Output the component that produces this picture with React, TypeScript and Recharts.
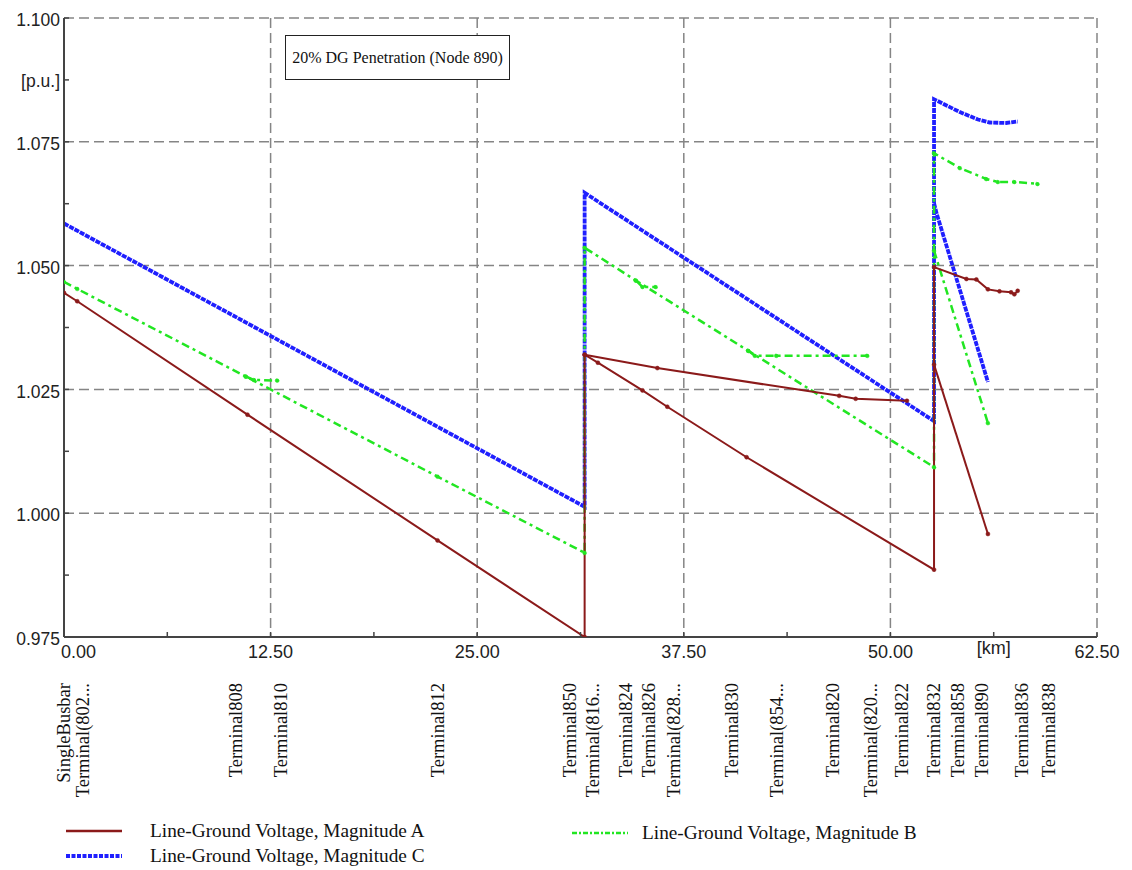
import React from 'react';
import { LineChart, Line, XAxis, YAxis, CartesianGrid } from 'recharts';

type P = { x: number; y: number };
const toPts = (a: number[][]): P[] => a.map(([x, y]) => ({ x, y }));

// ---- Axis ticks ----
const xTicks = [0, 6.25, 12.5, 18.75, 25, 31.25, 37.5, 43.75, 50, 56.25, 62.5];
const xTickLabels = ['0.00', '', '12.50', '', '25.00', '', '37.50', '', '50.00', '[km]', '62.50'];
const xGrid = [12.5, 25, 37.5, 50, 62.5];
const yTicks = [0.975, 0.9875, 1.0, 1.0125, 1.025, 1.0375, 1.05, 1.0625, 1.075, 1.0875, 1.1];
const yTickLabels = ['0.975', '', '1.000', '', '1.025', '', '1.050', '', '1.075', '[p.u.]', '1.100'];
const yGrid = [1.0, 1.025, 1.05, 1.075, 1.1];

// ---- Terminals along the feeder (km positions of the labels) ----
const terminalNames = [
  'SingleBusbar', 'Terminal(802...', 'Terminal808', 'Terminal810', 'Terminal812',
  'Terminal850', 'Terminal(816...', 'Terminal824', 'Terminal826', 'Terminal(828...',
  'Terminal830', 'Terminal(854...', 'Terminal820', 'Terminal(820...', 'Terminal822',
  'Terminal832', 'Terminal858', 'Terminal890', 'Terminal836', 'Terminal838',
];
const terminalKm = [
  0, 1.15, 10.35, 13.13, 22.63,
  30.61, 32.0, 34.0, 35.39, 36.85,
  40.36, 43.14, 46.47, 48.77, 50.7,
  52.58, 54.09, 55.54, 57.96, 59.54,
];

// ---- Phase A (Line-Ground Voltage, Magnitude A) ----
const phaseAMain = [
  [0, 1.0445], [0.8, 1.0428], [11.1, 1.0199], [22.6, 0.9945], [31.5, 0.975],
  [31.5, 1.032], [32.3, 1.0304], [35.0, 1.0248], [36.5, 1.0215], [41.3, 1.0113], [52.64, 0.9886],
  [52.64, 1.0497], [54.6, 1.0473], [55.2, 1.0472], [55.9, 1.0452], [56.6, 1.0448],
  [57.3, 1.0446], [57.5, 1.0442], [57.7, 1.0449],
];
const phaseABranch850 = [[31.5, 1.032], [35.9, 1.0293], [46.9, 1.0237], [47.9, 1.0231], [51.0, 1.0227]];
const phaseABranch832 = [[52.64, 1.03], [55.9, 0.9958]];

// ---- Phase B ----
const phaseBMain = [
  [0, 1.0467], [0.8, 1.0453], [11.0, 1.0276], [22.6, 1.0074], [31.5, 0.992],
  [31.5, 1.0536], [34.6, 1.047], [41.4, 1.0328], [52.64, 1.0093],
  [52.64, 1.0727], [54.2, 1.0697], [55.8, 1.0675], [56.5, 1.0669], [57.5, 1.0669], [58.9, 1.0665],
];
const phaseBBranch808 = [[11.0, 1.0276], [11.5, 1.0269], [12.9, 1.0268]];
const phaseBBranch824 = [[34.6, 1.047], [35.0, 1.0457], [35.8, 1.0457]];
const phaseBBranch854 = [[41.4, 1.0328], [41.8, 1.0318], [43.1, 1.0318], [48.6, 1.0318]];
const phaseBBranch832 = [[52.64, 1.053], [55.9, 1.0182]];

// ---- Phase C ----
const phaseCMain = [
  [0, 1.0585], [31.5, 1.0013], [31.5, 1.0647], [52.64, 1.0186],
  [52.64, 1.0836], [54.2, 1.081], [55.3, 1.0795], [56.0, 1.0789], [57.0, 1.0788], [57.7, 1.0791],
];
const phaseCBranch832 = [[52.64, 1.0626], [52.8, 1.0605], [55.9, 1.0265]];

const seriesNames = [
  'Line-Ground Voltage, Magnitude A',
  'Line-Ground Voltage, Magnitude B',
  'Line-Ground Voltage, Magnitude C',
];
const seriesColors = ['#8b1a1a', '#22e622', '#1f1fff'];
const seriesDash = ['', '8 4 3 4', '5 1'];
const seriesWidth = [2, 2.5, 3.8];

const annotation = '20% DG Penetration (Node 890)';

const SANS = "'Liberation Sans', Arial, sans-serif";
const SERIF = "'Liberation Serif', 'Times New Roman', serif";

const idx = (arr: number[], v: number) => arr.findIndex((t) => Math.abs(t - v) < 1e-9);

const YTick = (props: any) => {
  const { x, y, payload } = props;
  const i = idx(yTicks, payload.value);
  const label = i >= 0 ? yTickLabels[i] : '';
  const ax = x + 4;
  return (
    <g>
      <line x1={ax} x2={ax + 5} y1={y} y2={y} stroke="#444" strokeWidth={1.5} />
      {label ? (
        <text x={x} y={label === '[p.u.]' ? y + 1 : y + 2} dy="0.35em" textAnchor="end" style={{ fontFamily: SANS }} fontSize={17.5} fill="#222">
          {label}
        </text>
      ) : null}
    </g>
  );
};

const XTick = (props: any) => {
  const { x, y, payload } = props;
  const i = idx(xTicks, payload.value);
  const label = i >= 0 ? xTickLabels[i] : '';
  const isFirst = i === 0;
  const isUnit = label === '[km]';
  return (
    <g>
      <line x1={x} x2={x} y1={y} y2={y - 5} stroke="#444" strokeWidth={1.5} />
      {label ? (
        <text
          x={isFirst ? x - 3 : x}
          y={isUnit ? y + 4 : y + 8}
          dy="0.71em"
          textAnchor={isFirst ? 'start' : 'middle'}
          style={{ fontFamily: SANS }}
          fontSize={18}
          fill="#222"
        >
          {label}
        </text>
      ) : null}
    </g>
  );
};

const TermTick = (props: any) => {
  const { x, y, payload } = props;
  const i = idx(terminalKm, payload.value);
  const name = i >= 0 ? terminalNames[i] : '';
  const ty = y + 6;
  return (
    <text
      x={x}
      y={ty}
      transform={`rotate(-90 ${x} ${ty})`}
      textAnchor="end"
      dy="0.35em"
      style={{ fontFamily: SERIF }}
      fontSize={18.5}
      fill="#111"
    >
      {name}
    </text>
  );
};

const dotFor = (color: string) => ({ r: 2, fill: color, stroke: color, strokeWidth: 0.5 });

const series = [
  { key: 'c1', data: phaseCMain, s: 2, dot: false },
  { key: 'c2', data: phaseCBranch832, s: 2, dot: false },
  { key: 'b1', data: phaseBMain, s: 1, dot: true },
  { key: 'b2', data: phaseBBranch808, s: 1, dot: true },
  { key: 'b3', data: phaseBBranch824, s: 1, dot: true },
  { key: 'b4', data: phaseBBranch854, s: 1, dot: true },
  { key: 'b5', data: phaseBBranch832, s: 1, dot: true },
  { key: 'a1', data: phaseAMain, s: 0, dot: true },
  { key: 'a2', data: phaseABranch850, s: 0, dot: true },
  { key: 'a3', data: phaseABranch832, s: 0, dot: true },
];

const LegendSample = ({ i }: { i: number }) => (
  <svg width={56} height={8} style={{ display: 'block' }}>
    <line
      x1={0}
      x2={56}
      y1={4}
      y2={4}
      stroke={seriesColors[i]}
      strokeWidth={i === 2 ? 4 : 2.5}
      strokeDasharray={i === 1 ? '5 2 2 2' : i === 2 ? '4 1.5' : undefined}
    />
  </svg>
);

const legendPos = [
  { left: 66, top: 820 },
  { left: 572, top: 822 },
  { left: 66, top: 845 },
];

export default function App() {
  return (
    <div style={{ position: 'absolute', left: 0, top: 0, width: 1132, height: 870, background: '#fff' }}>
      <LineChart width={1132} height={870} margin={{ top: 18, right: 35, left: 0, bottom: 33 }}>
        <CartesianGrid
          verticalValues={xGrid}
          horizontalValues={yGrid}
          stroke="#858585"
          strokeWidth={1.5}
          strokeDasharray="10 5"
        />
        <XAxis
          xAxisId={0}
          type="number"
          dataKey="x"
          domain={[0, 62.5]}
          ticks={xTicks}
          interval={0}
          height={40}
          tickSize={0}
          tickMargin={0}
          tickLine={false}
          axisLine={{ stroke: '#444', strokeWidth: 2 }}
          tick={<XTick />}
          allowDataOverflow
        />
        <XAxis
          xAxisId="term"
          type="number"
          dataKey="x"
          domain={[0, 62.5]}
          ticks={terminalKm}
          interval={0}
          height={160}
          tickSize={0}
          tickMargin={0}
          tickLine={false}
          axisLine={false}
          tick={<TermTick />}
          allowDataOverflow
        />
        <YAxis
          type="number"
          domain={[0.975, 1.1]}
          ticks={yTicks}
          interval={0}
          width={64}
          tickSize={0}
          tickMargin={4}
          tickLine={false}
          axisLine={{ stroke: '#444', strokeWidth: 2 }}
          tick={<YTick />}
          allowDataOverflow
        />
        {series.map((sr) => (
          <Line
            key={sr.key}
            data={toPts(sr.data)}
            dataKey="y"
            type="linear"
            stroke={seriesColors[sr.s]}
            strokeWidth={seriesWidth[sr.s]}
            strokeDasharray={seriesDash[sr.s] || undefined}
            dot={sr.dot ? dotFor(seriesColors[sr.s]) : false}
            activeDot={false}
            isAnimationActive={false}
            legendType="none"
          />
        ))}
      </LineChart>

      <div
        style={{
          position: 'absolute',
          left: 285,
          top: 35,
          width: 225,
          height: 45,
          boxSizing: 'border-box',
          border: '1px solid #222',
          background: '#fff',
          display: 'flex',
          alignItems: 'center',
          justifyContent: 'center',
          fontFamily: SERIF,
          fontSize: 16,
          color: '#111',
        }}
      >
        {annotation}
      </div>

      {seriesNames.map((name, i) => (
        <div
          key={name}
          style={{
            position: 'absolute',
            left: legendPos[i].left,
            top: legendPos[i].top,
            display: 'flex',
            alignItems: 'center',
            fontFamily: SERIF,
            fontSize: 19.3,
            color: '#111',
            whiteSpace: 'nowrap',
          }}
        >
          <LegendSample i={i} />
          <span style={{ marginLeft: i === 1 ? 14 : 28 }}>{name}</span>
        </div>
      ))}
    </div>
  );
}
